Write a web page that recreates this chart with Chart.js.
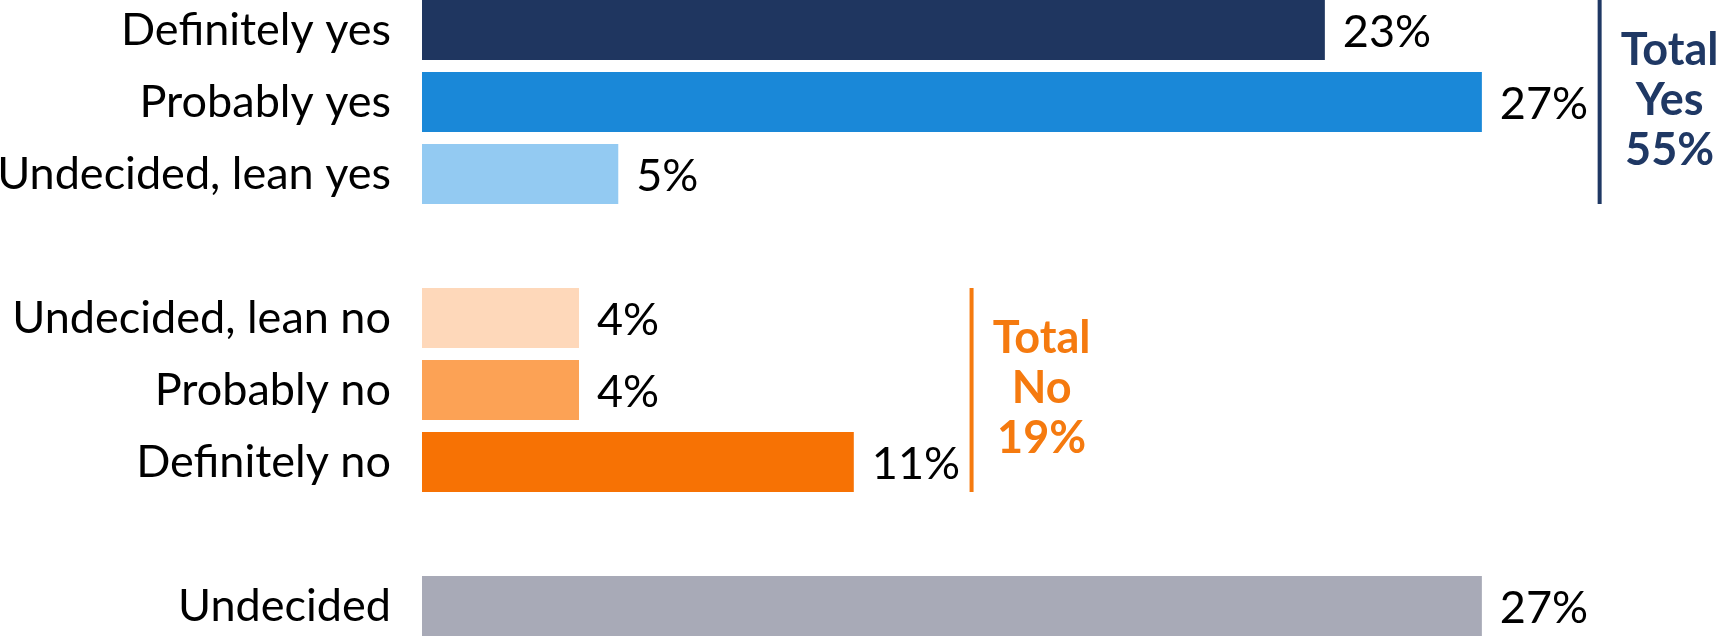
<!DOCTYPE html>
<html>
<head>
<meta charset="utf-8">
<script src="https://cdn.jsdelivr.net/npm/chart.js@4/dist/chart.umd.min.js"></script>
<style>
  html, body { margin: 0; padding: 0; background: #ffffff; overflow: hidden; }
  #wrap { position: absolute; left: 0; top: -6px; width: 1728px; height: 648px; }
</style>
</head>
<body>
<div id="wrap"><canvas id="c"></canvas></div>
<script>
// ---- data ----
const categories = ['Definitely yes', 'Probably yes', 'Undecided, lean yes', '',
                    'Undecided, lean no', 'Probably no', 'Definitely no', '', 'Undecided'];
const values = [23, 27, 5, null, 4, 4, 11, null, 27];
const valueLabels = ['23%', '27%', '5%', '', '4%', '4%', '11%', '', '27%'];
const barColors = ['#1F3660', '#1A88D8', '#93CAF2', '#ffffff',
                   '#FED8BA', '#FCA255', '#F77204', '#ffffff', '#A8AAB7'];
const totalYesLines = ['Total', 'Yes', '55%'];
const totalNoLines = ['Total', 'No', '19%'];

const FONT = 'Lato';
const FS = 45;

const groups = [
  { first: 0, last: 2, at: 30, lines: totalYesLines, color: '#1F3864' },
  { first: 4, last: 6, at: 14, lines: totalNoLines, color: '#F57A0F' }
];

const valueLabelPlugin = {
  id: 'valueLabels',
  afterDatasetsDraw(chart) {
    const ctx = chart.ctx;
    const meta = chart.getDatasetMeta(0);
    ctx.save();
    ctx.font = FS + 'px ' + FONT;
    ctx.fillStyle = '#000000';
    ctx.textAlign = 'left';
    ctx.textBaseline = 'middle';
    meta.data.forEach((bar, i) => {
      if (values[i] == null) return;
      ctx.fillText(valueLabels[i], bar.x + 18, bar.y + 2);
    });
    ctx.restore();
  }
};

const bracketPlugin = {
  id: 'brackets',
  afterDatasetsDraw(chart) {
    const ctx = chart.ctx;
    const meta = chart.getDatasetMeta(0);
    const xs = chart.scales.x;
    ctx.save();
    groups.forEach(g => {
      const b1 = meta.data[g.first], b2 = meta.data[g.last];
      const top = b1.y - b1.height / 2;
      const bottom = b2.y + b2.height / 2;
      const x = xs.getPixelForValue(g.at);
      ctx.strokeStyle = g.color;
      ctx.lineWidth = 4;
      ctx.beginPath();
      ctx.moveTo(x, top);
      ctx.lineTo(x, bottom);
      ctx.stroke();
      const cy = (top + bottom) / 2 - 2;
      ctx.fillStyle = g.color;
      ctx.font = 'bold ' + FS + 'px ' + FONT;
      ctx.textAlign = 'center';
      ctx.textBaseline = 'middle';
      g.lines.forEach((t, k) => {
        ctx.fillText(t, x + 70, cy + (k - 1) * 50);
      });
    });
    ctx.restore();
  }
};

new Chart(document.getElementById('c'), {
  type: 'bar',
  data: {
    labels: categories,
    datasets: [{
      data: values,
      backgroundColor: barColors,
      borderWidth: 0,
      barPercentage: 1,
      categoryPercentage: 60 / 72
    }]
  },
  options: {
    indexAxis: 'y',
    responsive: true,
    maintainAspectRatio: false,
    animation: false,
    layout: { padding: 0 },
    plugins: { legend: { display: false }, tooltip: { enabled: false } },
    scales: {
      x: { min: 0, max: 33.27, display: false, grid: { display: false } },
      y: {
        grid: { display: false, drawTicks: false },
        border: { display: false },
        ticks: { color: '#000000', font: { family: FONT, size: FS }, padding: 31, autoSkip: false },
        afterFit(scale) {
          scale.width = 422;
          scale.paddingTop = 0;
          scale.paddingBottom = 0;
        }
      }
    }
  },
  plugins: [valueLabelPlugin, bracketPlugin]
});
</script>
</body>
</html>
